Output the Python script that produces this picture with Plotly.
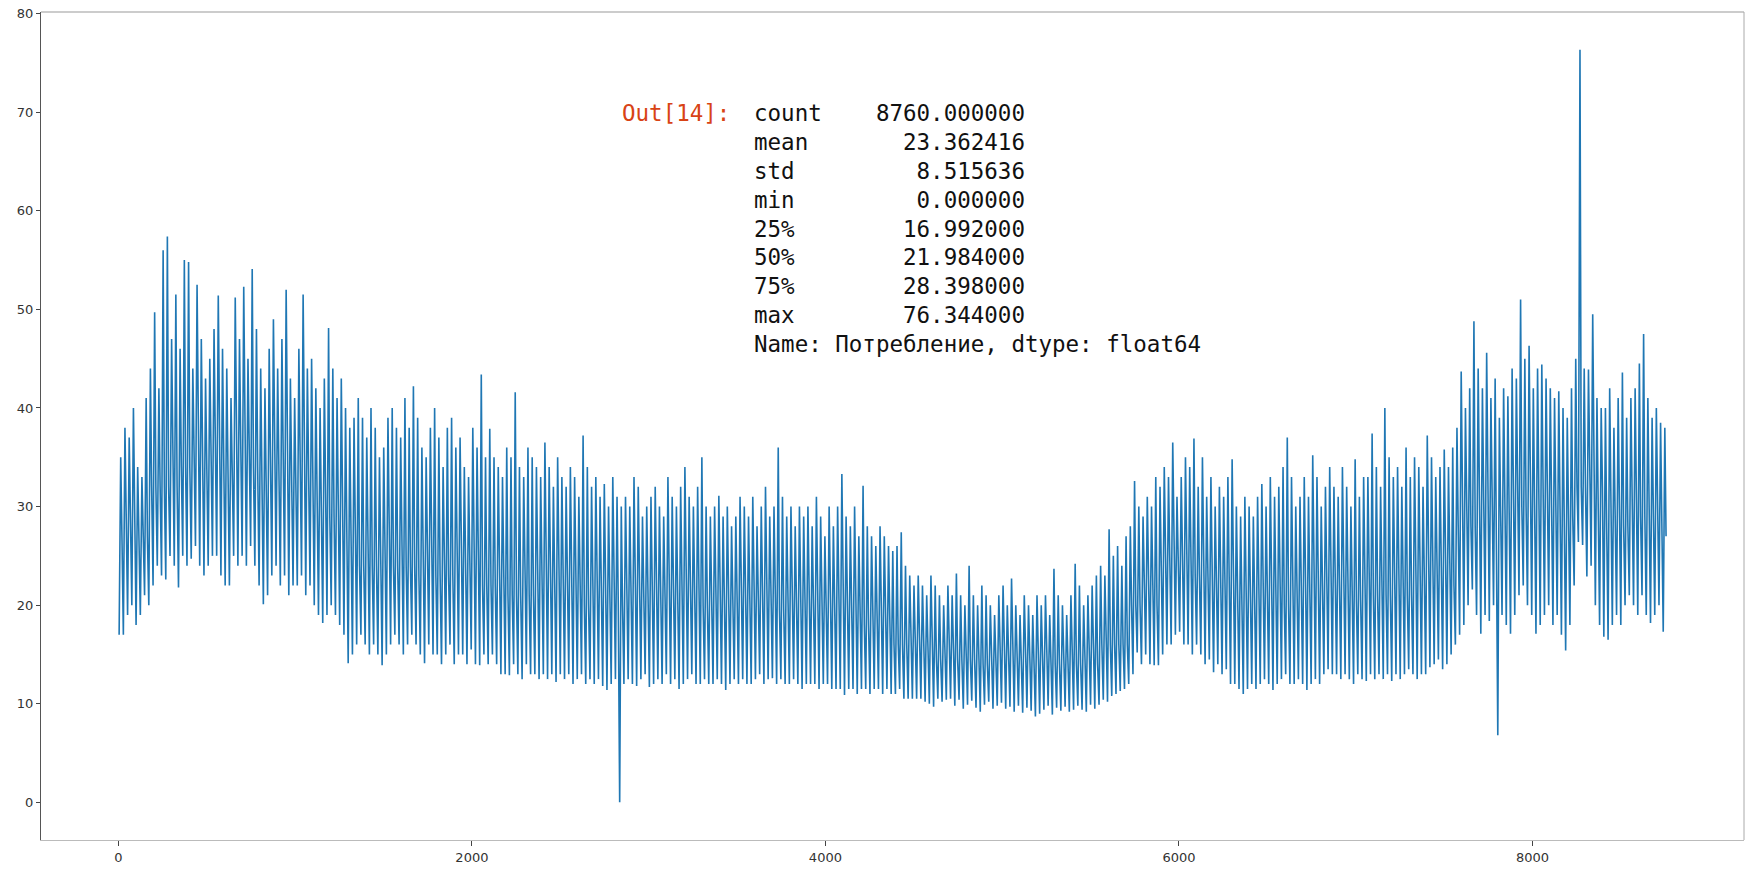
import numpy as np
import plotly.graph_objects as go

# Daily high / low readings of the hourly series, week by week
daily_high = [
    35, 38, 37, 40, 34, 33, 41,
    44, 49.7, 42, 56.0, 57.4, 47, 51.5,
    46, 55.0, 54.8, 44, 52.5, 47, 43,
    45, 48, 51.4, 46, 44, 41, 51.2,
    47, 52.3, 45, 54.1, 48, 44, 42,
    46, 49, 44, 47, 52.0, 43, 41,
    46, 51.5, 44, 45, 42, 40, 43,
    48.1, 44, 41, 43, 40, 38, 39,
    41, 39, 37, 40, 38, 35, 36,
    39, 40, 38, 37, 41, 38, 42.2,
    39, 36, 35, 38, 40, 37, 34,
    38, 39, 36, 37, 34, 33, 38,
    36, 43.4, 35, 37.9, 35, 34, 33,
    36, 35, 41.6, 34, 33, 36, 35,
    34, 33, 36.5, 34, 32, 35, 33,
    32, 34, 33, 31, 37.2, 34, 32,
    33, 31, 32.3, 30, 33, 31, 30,
    31, 30, 33.0, 32, 29, 30, 31,
    32, 30, 29, 33.0, 31, 30, 32,
    34.0, 31, 30, 32, 35.0, 30, 29,
    30, 31.1, 29, 30, 28, 29, 31,
    30, 29, 31, 28, 30, 32, 29,
    30, 36.0, 31, 29, 30, 28, 30,
    29, 30, 28, 31, 29, 27, 30,
    28, 30, 33.3, 29, 28, 30, 27,
    32.1, 28, 27, 26, 28, 27, 26,
    25.5, 26, 27.4, 24, 23, 22, 23,
    22, 21, 23, 22, 21, 20, 22,
    21, 23.2, 21, 20, 24.0, 21, 20,
    22, 21, 20, 19, 21, 22, 20,
    22.7, 20, 19, 21, 20, 19, 21,
    20, 21, 19, 23.7, 21, 20, 19,
    21, 24.2, 22, 20, 21, 22, 23,
    24, 23, 27.7, 25, 26, 24, 27,
    28, 32.6, 30, 29, 31, 30, 33,
    32, 34, 33, 36.5, 31, 33, 35,
    34, 36.9, 32, 35, 31, 33, 30,
    32, 31, 33, 34.8, 30, 29, 31,
    30, 29, 31, 32.3, 30, 33, 31,
    32, 34, 37.0, 33, 30, 31, 33,
    31, 35.2, 33, 30, 32, 34, 32,
    31, 34.0, 32, 30, 34.8, 31, 33,
    33, 37.4, 34, 32, 40.0, 35, 33,
    34, 32, 36.0, 33, 35, 34, 32,
    37.2, 35, 33, 34, 35.8, 34, 36,
    38, 43.7, 40, 42, 48.8, 44, 42,
    45.6, 41, 43, 39, 42, 41.2, 44,
    43, 51.0, 45, 46.3, 42, 44, 44.4,
    43, 42, 41, 41.7, 40, 39, 42,
    45, 76.344, 44, 43.9, 49.5, 41, 40,
    40.0, 42, 38, 41, 43.6, 39, 41,
    42, 44.5, 47.5, 41, 39, 40, 38.5,
    38,
]

daily_low = [
    17, 17, 19, 20, 18, 19, 21,
    20, 22, 24, 23, 22.6, 25, 24,
    21.8, 25, 24, 24.7, 26, 24, 23,
    24, 25, 25, 23, 22, 22, 25,
    24, 25, 24, 26, 24, 22, 20.1,
    21, 23, 24, 22, 23, 21, 22,
    22, 23, 21, 22, 20, 19, 18.2,
    19, 20, 19, 18, 17, 14.1, 15,
    16, 17, 16, 15, 16, 15, 13.9,
    15, 16, 17, 16, 15, 16, 17,
    16, 15, 14.1, 16, 15, 15, 14,
    15, 16, 14, 15, 15, 14, 15.5,
    14, 13.9, 15, 14, 15, 14, 13,
    13, 12.9, 14, 13, 12.5, 14, 13,
    13, 12.5, 13, 12.5, 13, 12.2, 13,
    12.5, 13, 12, 12.5, 13, 12, 12.5,
    12, 12.5, 11.8, 11.4, 12, 12.5, 0.0,
    12, 12.5, 12, 11.8, 12.5, 13, 11.7,
    12, 12.5, 12, 13, 12, 12.5, 11.5,
    12, 12.5, 13, 12, 12, 12.5, 12,
    12, 12.5, 12, 11.4, 12, 12.5, 12,
    12.5, 12, 12, 12.5, 13, 12, 12.5,
    12.6, 12, 12.5, 12, 12, 12.5, 12,
    11.5, 12, 12, 12, 11.5, 12, 12,
    11.5, 11.5, 11.5, 10.9, 11.5, 11.5, 11,
    11.5, 11.5, 11, 11.5, 11.5, 11, 11.5,
    11, 11, 11.5, 10.5, 10.5, 10.5, 10.5,
    10.5, 10.2, 10, 9.7, 10.5, 10.2, 10.4,
    10.5, 9.8, 10.4, 9.5, 9.9, 10.3, 9.6,
    9.2, 9.9, 10.2, 9.5, 9.8, 10.1, 9.5,
    9.7, 9.2, 9.8, 9.1, 9.6, 9.3, 8.7,
    9.0, 9.4, 9.8, 8.9, 9.6, 9.3, 9.7,
    9.2, 9.4, 9.8, 9.4, 9.2, 9.9, 9.5,
    9.9, 10.4, 10.2, 10.8, 11, 11.3, 11.5,
    12, 13, 15.2, 14, 15, 14, 13.9,
    13.9, 15, 16, 16, 17, 17.3, 16,
    16, 15, 16, 15, 14, 14.5, 13.2,
    14, 13, 13.5, 12, 12, 11.5, 11.0,
    11.5, 12, 11.5, 12, 12.5, 12, 11.4,
    12, 12.5, 13, 12, 12, 12.5, 12,
    11.4, 12, 12.5, 12, 13, 13.5, 13,
    13, 12.5, 13, 12.5, 12, 13, 12.5,
    12.3, 13, 12.5, 13, 12.5, 13, 12.3,
    13, 12.5, 13, 13.5, 13, 12.5, 13,
    13, 13.7, 14, 14.5, 13.5, 14, 15,
    16, 17, 18, 20, 21.6, 19, 17.1,
    19, 18.4, 20, 6.8, 19, 18, 17.1,
    19, 21, 22, 20, 19, 17.1, 18,
    19, 20, 18, 19, 17, 15.4, 18,
    22, 26.4, 26.1, 22.9, 24, 20, 18,
    16.8, 16.5, 18, 19, 18, 20, 21,
    20, 19, 21, 19, 18.2, 19, 20,
    17.3,
]

# Level of the dense middle of the band (evening values), one reading per week
weekly_mid = [
    27, 32, 34, 34, 34, 33, 32, 29, 24, 24,
    23, 23, 22, 21, 21, 20, 20, 20, 20, 20,
    19.5, 19.5, 19.5, 19, 19, 18, 16, 14.5, 14.5, 14,
    14, 14, 14, 16, 20, 24, 23, 20, 19.5, 20,
    20.5, 20.5, 21, 21, 22, 28, 28, 30, 29, 32,
    28, 29, 27,
]

stat_names = ["count", "mean", "std", "min", "25%", "50%", "75%", "max"]
stat_values = [8760.0, 23.362416, 8.515636, 0.0, 16.992, 21.984, 28.398, 76.344]
series_footer = "Name: Потребление, dtype: float64"
prompt_text = "Out[14]:"

x_ticks = [0, 2000, 4000, 6000, 8000]
y_ticks = [0, 10, 20, 30, 40, 50, 60, 70, 80]

# ---- hourly positions: night low, afternoon high, evening level for each day
n_days = min(len(daily_high), len(daily_low))
days = np.arange(n_days)
mid_of_day = np.array([weekly_mid[min(d // 7, len(weekly_mid) - 1)] for d in days], dtype=float)
xs = np.empty(3 * n_days)
ys = np.empty(3 * n_days)
xs[0::3] = days * 24 + 4
xs[1::3] = days * 24 + 13
xs[2::3] = days * 24 + 20
ys[0::3] = np.array(daily_low[:n_days], dtype=float)
ys[1::3] = np.array(daily_high[:n_days], dtype=float)
ys[2::3] = mid_of_day

W, H = 1749, 870
ML, MR, MT, MB = 41, 5, 12, 28
PW, PH = W - ML - MR, H - MT - MB

n_hours = 8760
pad_x = 0.05 * (n_hours - 1)
x_range = [-pad_x, (n_hours - 1) + pad_x]
ymax = max(max(daily_high), max(stat_values[1:]))
pad_y = 0.05 * ymax
y_range = [-pad_y, ymax + pad_y]

fig = go.Figure()
fig.add_trace(go.Scatter(
    x=xs, y=ys, mode="lines",
    line=dict(color="#1f77b4", width=1.6),
    showlegend=False, hoverinfo="skip",
))

tick_font = dict(family="DejaVu Sans", size=13, color="#333333")
fig.update_layout(
    width=W, height=H,
    margin=dict(l=ML, r=MR, t=MT, b=MB),
    paper_bgcolor="white", plot_bgcolor="white",
    xaxis=dict(
        range=x_range, showgrid=False, zeroline=False,
        showline=True, linecolor="#bbbbbb", linewidth=1,
        ticks="outside", ticklen=5, tickcolor="#444444",
        tickvals=x_ticks, ticktext=[str(v) for v in x_ticks],
        tickfont=tick_font,
    ),
    yaxis=dict(
        range=y_range, showgrid=False, zeroline=False,
        showline=True, linecolor="#555555", linewidth=1,
        ticks="outside", ticklen=4, tickcolor="#444444",
        tickvals=y_ticks, ticktext=[str(v) for v in y_ticks],
        tickfont=tick_font,
    ),
)

# top and right spines
fig.add_shape(type="line", xref="paper", yref="paper", x0=0, x1=1, y0=1, y1=1,
              line=dict(color="#999999", width=1))
fig.add_shape(type="line", xref="paper", yref="paper", x0=1, x1=1, y0=0, y1=1,
              line=dict(color="#aaaaaa", width=1))

# ---- the pasted describe() output
NB = "\u00a0"
mono = "DejaVu Sans Mono"
fsize = 22.5


def px_to_paper_x(px):
    return (px - ML) / PW


def px_to_paper_y(py):
    return 1 - (py - MT) / PH


line_y0, line_dy = 113.5, 28.9
text_x = 751.8
prompt_x = 620.4

lines = []
for name, val in zip(stat_names, stat_values):
    s = f"{name:<5}    {val:>11.6f}"
    lines.append(s.replace(" ", NB))
lines.append(series_footer.replace(" ", NB))

for i, s in enumerate(lines):
    fig.add_annotation(
        x=px_to_paper_x(text_x), y=px_to_paper_y(line_y0 + i * line_dy),
        xref="paper", yref="paper", xanchor="left", yanchor="middle",
        text=s, showarrow=False,
        font=dict(family=mono, size=fsize, color="#111111"),
    )

fig.add_annotation(
    x=px_to_paper_x(prompt_x), y=px_to_paper_y(line_y0),
    xref="paper", yref="paper", xanchor="left", yanchor="middle",
    text=prompt_text, showarrow=False,
    font=dict(family=mono, size=fsize, color="#D84315"),
)

fig.write_html("out.html")
